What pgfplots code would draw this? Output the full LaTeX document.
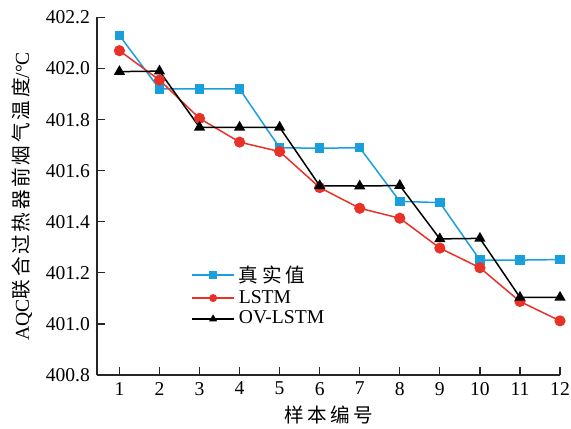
\documentclass[border=0pt]{standalone}
\usepackage{pgfplots}
\pgfplotsset{compat=1.18}
\usepackage{fontspec}
\setmainfont{Liberation Serif}
\newfontfamily\cjk[LetterSpace=18]{Noto Sans CJK SC}
\newfontfamily\cjky[LetterSpace=14]{Noto Sans CJK SC}
\definecolor{cblue}{RGB}{25,160,220}
\definecolor{cred}{RGB}{232,50,40}
\begin{document}
\begin{tikzpicture}
\useasboundingbox (-48.5pt,-26.5pt) rectangle (237pt,187.5pt);
\begin{axis}[
  at={(0,0)}, anchor=south west,
  scale only axis, width=231.5pt, height=178.75pt,
  xmin=0.44, xmax=12, ymin=400.8, ymax=402.2,
  axis lines=left, axis line style={-, line width=0.7pt, black!85},
  xtick={1,...,12},
  ytick={400.8,401.0,...,402.2},
  yticklabel style={/pgf/number format/.cd, fixed, fixed zerofill, precision=1},
  /pgf/number format/assume math mode=true,
  tick style={line width=0.6pt, black!85},
  major tick length=4pt,
  tick align=inside,
  font=\fontsize{9.8}{11}\selectfont,
  ticklabel style={font=\fontsize{9.8}{11}\selectfont},
  xlabel={{\cjk 样本编号}},
  ylabel={AQC{\cjky 联合过热器前烟气温度}/°C},
  xlabel style={at={(axis description cs:0.5,0)}, anchor=north, yshift=-12pt},
  ylabel style={at={(axis description cs:0,0.5)}, anchor=south, yshift=29pt},
  legend style={at={(0.19,0.33)}, anchor=north west, draw=none, fill=none,
    font=\fontsize{9.8}{11}\selectfont, row sep=-1.5pt},
  legend cell align=left,
  legend image code/.code={\draw[#1, mark size=1.6pt] (0pt,0pt) -- (10.5pt,0pt); \draw[#1,mark size=1.6pt,mark repeat=2,mark phase=2] plot coordinates {(0pt,0pt) (10.5pt,0pt) (21pt,0pt)}; \draw[#1] (10.5pt,0pt) -- (21pt,0pt);},
]
\addplot[cblue, line width=0.75pt, mark=square*, mark size=2pt] coordinates {
(1,402.13) (2,401.92) (3,401.92) (4,401.92) (5,401.69) (6,401.688) (7,401.69) (8,401.48) (9,401.475) (10,401.25) (11,401.25) (12,401.252)};
\addlegendentry{{\cjk 真实值}}
\addplot[cred, line width=0.75pt, mark=*, mark size=2.4pt] coordinates {
(1,402.07) (2,401.955) (3,401.805) (4,401.712) (5,401.675) (6,401.534) (7,401.453) (8,401.414) (9,401.297) (10,401.22) (11,401.088) (12,401.012)};
\addlegendentry{LSTM}
\addplot[black, line width=0.75pt, mark=triangle*, mark size=2.5pt] coordinates {
(1,401.988) (2,401.99) (3,401.77) (4,401.77) (5,401.77) (6,401.541) (7,401.54) (8,401.542) (9,401.333) (10,401.335) (11,401.104) (12,401.104)};
\addlegendentry{OV-LSTM}
\end{axis}
\end{tikzpicture}
\end{document}
